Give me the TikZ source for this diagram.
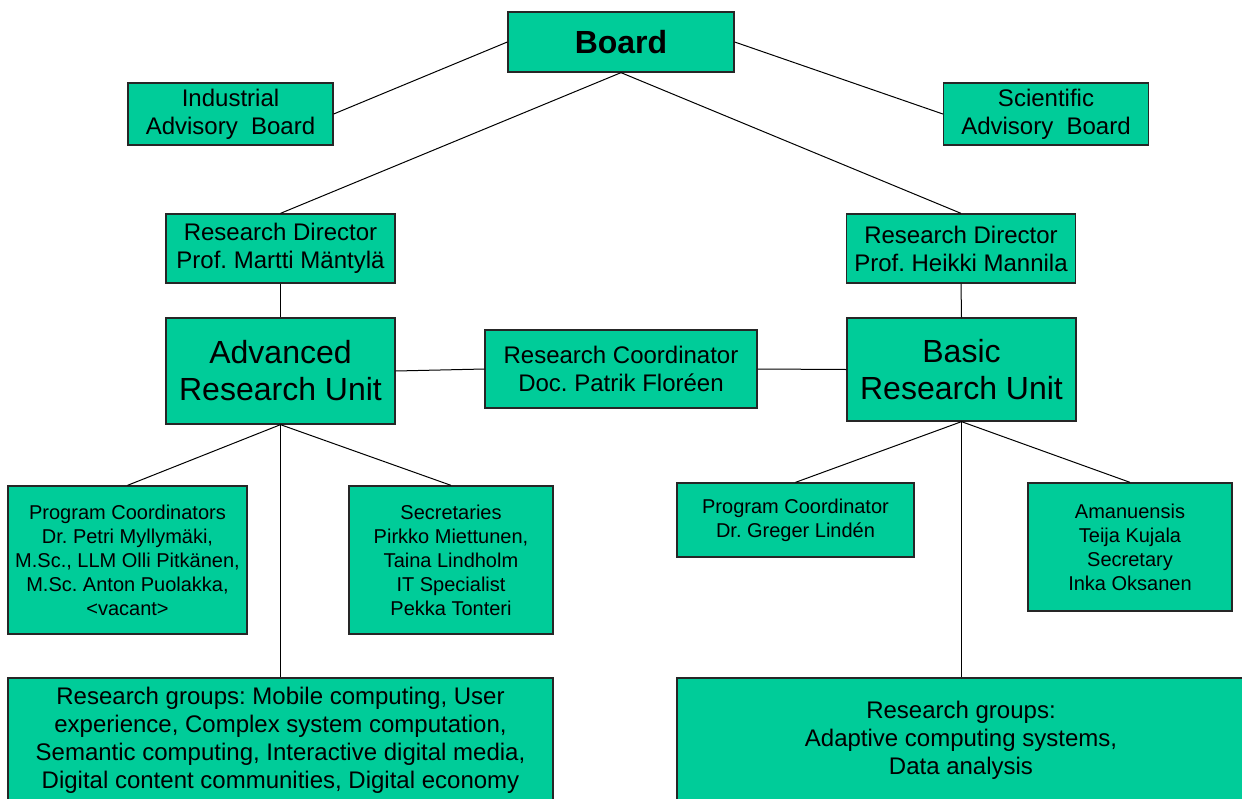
\documentclass[tikz,border=0pt]{standalone}
\usepackage{fontspec}
\setmainfont{Liberation Sans}
\usepackage{tikz}
\definecolor{boxgreen}{RGB}{0,204,153}
\frenchspacing

\begin{document}
\begin{tikzpicture}[x=1pt,y=1pt]
	\tikzstyle{every node}+=[inner sep=0pt]
	\tikzstyle{orgbox}=[draw=black!85,line width=1.3pt,fill=boxgreen,align=center]
	\tikzstyle{bigtext}=[font=\fontsize{32}{37}\selectfont]
	\tikzstyle{midtext}=[font=\fontsize{24}{28}\selectfont]
	\tikzstyle{smalltext}=[font=\fontsize{20}{24}\selectfont]
	\tikzstyle{link}=[black,line width=1pt]
	\useasboundingbox (0,0) rectangle (1242,-798);
	\node [orgbox,minimum width=226,minimum height=60,font=\fontsize{32}{37}\selectfont\bfseries] (board) at (621,-42) {Board};
	\node [orgbox,midtext,minimum width=205,minimum height=62] (ind) at (230.5,-114) {Industrial\\Advisory~ Board};
	\node [orgbox,midtext,minimum width=205,minimum height=62] (sci) at (1046,-114) {Scientific\\Advisory~ Board};
	\node [orgbox,midtext,minimum width=229,minimum height=69] (rdl) at (280.5,-248.5) {Research Director\\Prof. Martti M\"antyl\"a};
	\node [orgbox,midtext,minimum width=229,minimum height=69] (rdr) at (961,-248.5) {Research Director\\Prof. Heikki Mannila};
	\node [orgbox,bigtext,minimum width=229,minimum height=106] (adv) at (280.5,-371) {Advanced\\Research Unit};
	\node [orgbox,bigtext,minimum width=229,minimum height=103] (basic) at (961.5,-369.5) {Basic\\Research Unit};
	\node [orgbox,midtext,minimum width=272,minimum height=78] (coord) at (621,-369) {Research Coordinator\\Doc. Patrik Flor\'een};
	\node [orgbox,smalltext,minimum width=239,minimum height=148] (pcl) at (127.5,-560) {Program Coordinators\\Dr. Petri Myllym\"aki,\\M.Sc., LLM Olli Pitk\"anen,\\M.Sc. Anton Puolakka,\\<vacant>};
	\node [orgbox,smalltext,minimum width=204,minimum height=148] (sec) at (451,-560) {Secretaries\\Pirkko Miettunen,\\Taina Lindholm\\IT Specialist\\Pekka Tonteri};
	\node [orgbox,smalltext,minimum width=237,minimum height=74] (pcr) at (795.5,-520) {Program Coordinator\\Dr. Greger Lind\'en};
	\node [orgbox,smalltext,minimum width=204,minimum height=128] (aman) at (1130,-547) {Amanuensis\\Teija Kujala\\Secretary\\Inka Oksanen};
	\node [orgbox,midtext,minimum width=545,minimum height=124] (rgl) at (280.5,-740) {Research groups: Mobile computing, User\\experience, Complex system computation,\\Semantic computing, Interactive digital media,\\Digital content communities, Digital economy};
	\node [orgbox,minimum width=580,minimum height=124] (rgr) at (967,-740) {};
	\node [midtext,align=center] (rgrtext) at (961,-740) {Research groups:\\Adaptive computing systems,\\Data analysis};
	\draw [link] (board.west) -- (ind.east);
	\draw [link] (board.east) -- (sci.west);
	\draw [link] (board.south) -- (rdl.north);
	\draw [link] (board.south) -- (rdr.north);
	\draw [link] (rdl.south) -- (adv.north);
	\draw [link] (rdr.south) -- (basic.north);
	\draw [link] (adv.east) -- (coord.west);
	\draw [link] (coord.east) -- (basic.west);
	\draw [link] (adv.south) -- (pcl.north);
	\draw [link] (adv.south) -- (sec.north);
	\draw [link] (adv.south) -- (rgl.north);
	\draw [link] (basic.south) -- (pcr.north);
	\draw [link] (basic.south) -- (aman.north);
	\draw [link] (basic.south) -- (basic.south |- rgr.north);
\end{tikzpicture}
\end{document}
